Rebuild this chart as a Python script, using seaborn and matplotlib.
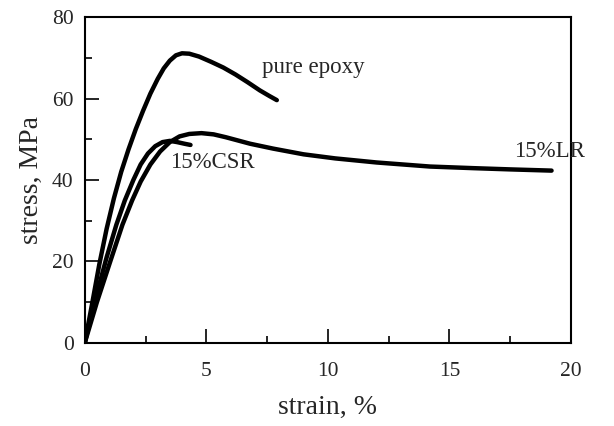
import numpy as np
import pandas as pd
import matplotlib
matplotlib.use("Agg")
import matplotlib.pyplot as plt
import seaborn as sns
from matplotlib.ticker import MultipleLocator

# ----------- données -----------

epoxy_strain = [0, 0.3, 0.6, 0.9, 1.2, 1.5, 1.8, 2.1, 2.4, 2.7, 3.0, 3.25, 3.5, 3.75,
                4.0, 4.3, 4.7, 5.2, 5.7, 6.2, 6.7, 7.2, 7.6, 7.9]
epoxy_stress = [0, 9.5, 19.3, 28, 35.5, 42, 47.5, 52.5, 57, 61.2, 64.8, 67.4, 69.3, 70.6,
                71.1, 71.0, 70.3, 69.0, 67.6, 65.9, 64.0, 62.0, 60.6, 59.6]

csr_strain = [0, 0.45, 0.9, 1.3, 1.65, 2.0, 2.3, 2.6, 2.9, 3.2, 3.5, 3.8, 4.1, 4.35]
csr_stress = [0, 11, 21, 29, 35, 40, 43.8, 46.5, 48.3, 49.3, 49.6, 49.3, 48.9, 48.6]

lr_strain = [0, 0.5, 1.05, 1.55, 1.95, 2.3, 2.7, 3.1, 3.5, 3.9, 4.3, 4.8, 5.3, 5.8,
             6.8, 7.75, 9.0, 10.3, 12.0, 14.2, 16.0, 17.5, 19.2]
lr_stress = [0, 10, 20, 29, 35, 39.6, 43.8, 47, 49.3, 50.7, 51.3, 51.5, 51.2, 50.5,
             48.9, 47.7, 46.3, 45.3, 44.3, 43.3, 42.9, 42.6, 42.3]

labels = ["pure epoxy", "15%CSR", "15%LR"]
label_pos = [(7.3, 67.5), (3.5, 44.4), (17.65, 46.9)]

df = pd.concat([
    pd.DataFrame({"strain": epoxy_strain, "stress": epoxy_stress, "sample": labels[0]}),
    pd.DataFrame({"strain": csr_strain, "stress": csr_stress, "sample": labels[1]}),
    pd.DataFrame({"strain": lr_strain, "stress": lr_stress, "sample": labels[2]}),
])

# ----------- style -----------
sns.set_style("ticks")
plt.rcParams["font.family"] = ["Liberation Serif", "DejaVu Serif"]
plt.rcParams["font.size"] = 15

fig = plt.figure(figsize=(6.14, 4.26), dpi=100)
ax = fig.add_axes([0.138, 0.195, 0.792, 0.765])

sns.lineplot(data=df, x="strain", y="stress", hue="sample", units="sample",
             estimator=None, sort=False, palette=["black"] * 3, linewidth=3.2,
             legend=False, ax=ax, solid_capstyle="round", solid_joinstyle="round")

for txt, (x, y) in zip(labels, label_pos):
    ax.text(x, y, txt, fontsize=16.5, va="center", ha="left")

ax.set_xlim(0, 20)
ax.set_ylim(0, 80)
ax.xaxis.set_major_locator(MultipleLocator(5))
ax.xaxis.set_minor_locator(MultipleLocator(2.5))
ax.yaxis.set_major_locator(MultipleLocator(20))
ax.yaxis.set_minor_locator(MultipleLocator(10))
ax.tick_params(which="both", direction="in", top=False, right=False, width=1.2,
               color="black", labelsize=15.5)
ax.tick_params(which="major", length=10)
ax.tick_params(which="minor", length=5)
ax.tick_params(axis="x", which="major", pad=14)
ax.tick_params(axis="y", which="major", pad=8)
for s in ax.spines.values():
    s.set_visible(True)
    s.set_linewidth(1.5)
    s.set_color("black")

ax.set_xlabel("strain, %", fontsize=20, labelpad=10)
ax.set_ylabel("stress, MPa", fontsize=20, labelpad=6)

fig.savefig("out.png", dpi=100)
